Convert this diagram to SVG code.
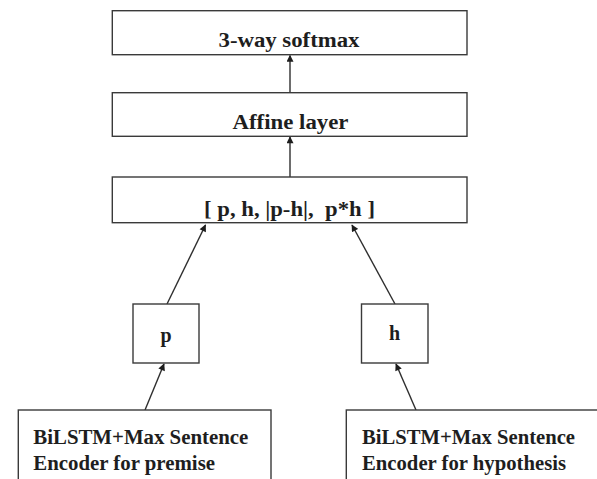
<svg xmlns="http://www.w3.org/2000/svg" width="597" height="479" viewBox="0 0 597 479">
<style>
.box{fill:#fff;stroke:#3a3a3a;stroke-width:1.4}
.t{font-family:"Liberation Serif","Times New Roman",serif;font-weight:bold;font-size:20px;fill:#1e1e1e}
.c{stroke:#2e2e2e;stroke-width:1.4;fill:none;marker-end:url(#ah)}
</style>
<defs>
<marker id="ah" viewBox="0 0 10 10" refX="9" refY="5" markerUnits="userSpaceOnUse" markerWidth="8" markerHeight="7" orient="auto">
<path d="M0,0 L10,5 L0,10 Z" fill="#1e1e1e"/>
</marker>
</defs>
<rect width="597" height="479" fill="#fff"/>
<g id="connectors">
<line class="c" x1="290" y1="92.7" x2="290" y2="55.5"/>
<line class="c" x1="290" y1="177" x2="290" y2="137"/>
<line class="c" x1="167" y1="304" x2="205.5" y2="225"/>
<line class="c" x1="395" y1="304" x2="352" y2="225"/>
<line class="c" x1="145" y1="410" x2="164" y2="364"/>
<line class="c" x1="416" y1="410" x2="396" y2="364"/>
</g>
<g id="softmax">
<rect class="box" x="112.3" y="10.7" width="354.7" height="44"/>
<text class="t" x="289" y="46.5" text-anchor="middle" textLength="141" lengthAdjust="spacingAndGlyphs">3-way softmax</text>
</g>
<g id="affine">
<rect class="box" x="112.3" y="92.7" width="354.7" height="43.6"/>
<text class="t" x="290.5" y="128.5" text-anchor="middle" textLength="116" lengthAdjust="spacingAndGlyphs">Affine layer</text>
</g>
<g id="concat">
<rect class="box" x="112.3" y="177" width="354.7" height="45.7"/>
<text class="t" x="289.5" y="216" text-anchor="middle" textLength="171" lengthAdjust="spacingAndGlyphs" xml:space="preserve">[ p, h, |p-h|,  p*h ]</text>
</g>
<g id="p">
<rect class="box" x="133" y="304" width="66" height="59"/>
<text class="t" x="166" y="341.5" text-anchor="middle">p</text>
</g>
<g id="h">
<rect class="box" x="361.5" y="304" width="66.5" height="59"/>
<text class="t" x="394.5" y="340" text-anchor="middle">h</text>
</g>
<g id="enc-premise">
<rect class="box" x="18.3" y="410" width="252.7" height="80"/>
<text class="t" x="33.3" y="444.3" textLength="215" lengthAdjust="spacingAndGlyphs">BiLSTM+Max Sentence</text>
<text class="t" x="33.3" y="470" textLength="181.7" lengthAdjust="spacingAndGlyphs">Encoder for premise</text>
</g>
<g id="enc-hypothesis">
<rect class="box" x="346.3" y="410" width="260" height="80"/>
<text class="t" x="362" y="444.3" textLength="213" lengthAdjust="spacingAndGlyphs">BiLSTM+Max Sentence</text>
<text class="t" x="362" y="470" textLength="204" lengthAdjust="spacingAndGlyphs">Encoder for hypothesis</text>
</g>
</svg>
